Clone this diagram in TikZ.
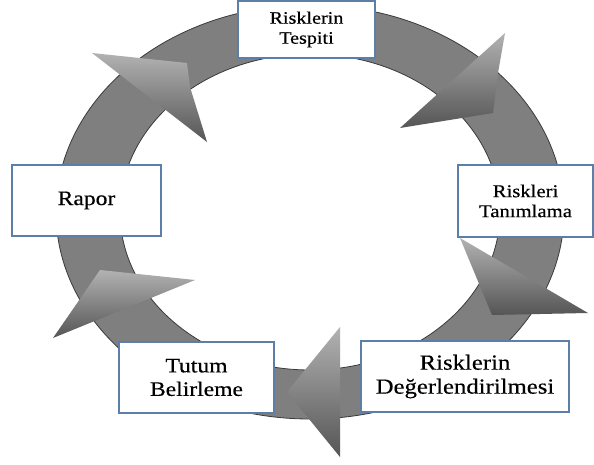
\documentclass[tikz,border=0pt]{standalone}
\usepackage{fontspec}
\setmainfont{Liberation Serif}[FakeStretch=1.15,FakeBold=0.4]
\definecolor{ringgray}{HTML}{7F7F7F}
\definecolor{ringedge}{HTML}{3A3A3A}
\definecolor{boxblue}{HTML}{5B7FA8}
\definecolor{arrowlight}{HTML}{B2B2B2}
\definecolor{arrowdark}{HTML}{555555}
\begin{document}
\begin{tikzpicture}[x=1pt,y=-1pt,
  stagebox/.style={draw=boxblue, line width=1.2pt, fill=white, align=center, inner sep=0pt, anchor=center},
  ring/.style={fill=ringgray, draw=ringedge, line width=0.8pt, even odd rule},
  headshade/.style={top color=arrowlight, bottom color=arrowdark}]
\useasboundingbox (0,0) rectangle (594,465);
\fill[white] (0,0) rectangle (594,465);
% ring
\path[ring] (310,212) ellipse [x radius=254pt, y radius=207pt]
            (310,212) ellipse [x radius=190pt, y radius=158pt];
% arrow heads
\shade[headshade] (92,53) -- (187,63) -- (190,87) -- (207,142) -- cycle;
\shade[headshade] (505,33) -- (498,73) -- (493,113) -- (400,128) -- cycle;
\shade[headshade] (460,238) -- (588,313) -- (492,315) -- cycle;
\shade[headshade] (340,327) -- (340,457) -- (287,392) -- cycle;
\shade[headshade] (100,270) -- (195,280) -- (53,338) -- cycle;
% boxes
\node[stagebox, minimum width=137pt, minimum height=57pt,
      font=\fontsize{17.5}{20}\selectfont] (tespit) at (306.5,29.5) {Risklerin\\Tespiti};
\node[stagebox, minimum width=135pt, minimum height=72pt,
      font=\fontsize{18}{20}\selectfont] (tanim) at (525.5,201) {Riskleri\\Tanımlama};
\node[stagebox, minimum width=208pt, minimum height=71pt,
      font=\fontsize{21.5}{24}\selectfont] (deger) at (465,376.5) {Risklerin\\Değerlendirilmesi};
\node[stagebox, minimum width=155pt, minimum height=71pt,
      font=\fontsize{20.5}{23.5}\selectfont] (tutum) at (196.5,377.5) {Tutum\\Belirleme};
\node[stagebox, minimum width=149pt, minimum height=71pt,
      font=\fontsize{20.5}{23.5}\selectfont] (rapor) at (86.5,200.5) {Rapor};
\end{tikzpicture}
\end{document}
